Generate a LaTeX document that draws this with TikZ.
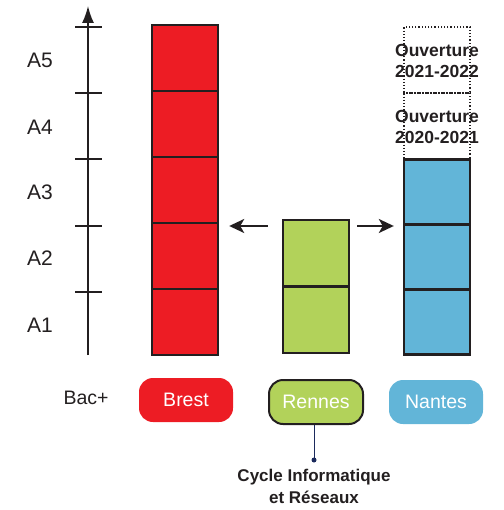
\documentclass[tikz,border=0pt]{standalone}
\usepackage{fontspec}
\setmainfont{Liberation Sans}
\usetikzlibrary{arrows.meta}
\definecolor{brestred}{HTML}{ED1C24}
\definecolor{rennesgreen}{HTML}{B2D25A}
\definecolor{nantesblue}{HTML}{62B5D8}
\definecolor{inkgray}{HTML}{231F20}
\definecolor{navy}{HTML}{1B2A5C}

\begin{document}
\begin{tikzpicture}[x=1pt,y=-1pt]
    \tikzset{cell/.style = {shape=rectangle, draw=inkgray, line width=2.4pt, minimum width=66pt, minimum height=66pt, inner sep=0pt}}
    \tikzset{future/.style = {shape=rectangle, draw=inkgray, dash pattern=on 1.2pt off 2pt, line width=1.3pt, minimum width=66pt, minimum height=66pt, inner sep=0pt}}
    \tikzset{campus/.style = {shape=rectangle, rounded corners=14pt, minimum width=94pt, minimum height=44pt, text=white, font=\fontsize{19.5}{21}\selectfont}}
    \tikzset{year/.style = {text=inkgray, font=\fontsize{21}{23}\selectfont}}
    \tikzset{opening/.style = {font=\bfseries\fontsize{17.5}{21}\selectfont, text=inkgray, align=center}}
    \tikzset{edge/.style = {draw=inkgray, line width=2.2pt, -{Stealth[length=15pt,width=14pt,inset=4pt]}}}
    \useasboundingbox (0,0) rectangle (503,510);

    % axis
    \coordinate (o) at (88,355);
    \coordinate (top) at (88,6);
    \draw [inkgray, line width=1.6pt, -{Latex[length=17pt,width=12pt]}] (o) -- (top);
    \foreach \y in {27,93,159,226,292}
        \draw [inkgray, line width=1.6pt] (75,\y) -- (102,\y);
    \foreach \y/\lab in {60/A5,127/A4,192/A3,258/A2,325/A1}
        \node[year] (\lab) at (40,\y) {\lab};

    % columns
    \foreach \y [count=\i] in {58,124,190,256,322}
        \node[cell,fill=brestred] (b\i) at (185,\y) {};
    \node[cell,fill=rennesgreen] (r1) at (316,253) {};
    \node[cell,fill=rennesgreen] (r2) at (316,320) {};
    \foreach \y [count=\i] in {192,257,322}
        \node[cell,fill=nantesblue,minimum height=65pt] (n\i) at (437,\y) {};
    \node[future] (f1) at (437,60) {};
    \node[future] (f2) at (437,126) {};
    \node[opening] (o1) at (437,61) {Ouverture\\2021-2022};
    \node[opening] (o2) at (437,127) {Ouverture\\2020-2021};

    % edges
    \draw [edge, shorten <=14pt, shorten >=10pt] (r1.west |- 0,226) -- (b4.east |- 0,226);
    \draw [edge, shorten <=7pt, shorten >=9pt] (r1.east |- 0,226) -- (n2.west |- 0,226);

    % campuses
    \node[year, font=\fontsize{19.5}{21}\selectfont] (bac) at (86,398) {Bac+};
    \node[campus,fill=brestred] (brest) at (186,400) {Brest};
    \node[campus,fill=rennesgreen,draw=inkgray,line width=2pt] (rennes) at (316,402) {Rennes};
    \node[campus,fill=nantesblue] (nantes) at (436,402) {Nantes};
    \coordinate (pin) at (314,460);
    \draw [navy, line width=1pt] (rennes.south -| pin) -- (pin);
    \fill [navy] (pin) circle (2.5pt);
    \node[font=\bfseries\fontsize{17}{22}\selectfont, text=inkgray, align=center, anchor=north] (cir) at (314,466) {Cycle Informatique\\et Réseaux};
\end{tikzpicture}
\end{document}
